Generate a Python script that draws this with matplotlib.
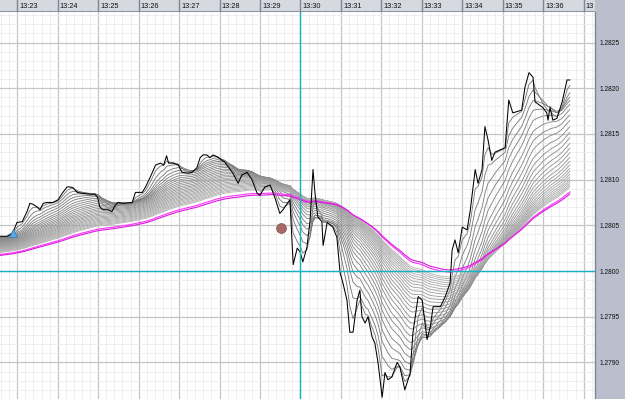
import numpy as np
import matplotlib
matplotlib.use("Agg")
import matplotlib.pyplot as plt
from matplotlib.ticker import MultipleLocator, FormatStrFormatter

# Price readings (time = minutes after 13:00, price)
times = [22.57, 22.75, 22.89, 22.99, 23.12, 23.24, 23.31, 23.39, 23.49, 23.56,
         23.64, 23.73, 23.88, 24.01, 24.11, 24.23, 24.30, 24.38, 24.48, 24.60,
         24.80, 24.92, 24.99, 25.04, 25.12, 25.24, 25.34, 25.42, 25.49, 25.61,
         25.84, 25.92, 26.09, 26.17, 26.29, 26.42, 26.54, 26.62, 26.69, 26.74,
         26.85, 26.98, 27.07, 27.22, 27.32, 27.44, 27.52, 27.59, 27.69, 27.76,
         27.84, 27.94, 28.13, 28.33, 28.46, 28.55, 28.68, 28.80, 28.93, 29.00,
         29.12, 29.25, 29.37, 29.49, 29.57, 29.69, 29.74, 29.82, 29.92, 29.99,
         30.06, 30.16, 30.24, 30.31, 30.36, 30.43, 30.53, 30.56, 30.66, 30.80,
         30.90, 30.98, 31.05, 31.15, 31.22, 31.30, 31.40, 31.47, 31.52, 31.60,
         31.67, 31.77, 31.84, 31.92, 32.02, 32.09, 32.16, 32.26, 32.39, 32.46,
         32.58, 32.71, 32.78, 32.91, 33.01, 33.13, 33.21, 33.28, 33.46, 33.58,
         33.70, 33.75, 33.82, 33.90, 34.00, 34.12, 34.20, 34.32, 34.39, 34.49,
         34.56, 34.64, 34.73, 34.81, 35.06, 35.15, 35.25, 35.47, 35.55, 35.65,
         35.75, 35.80, 35.99, 36.09, 36.12, 36.17, 36.24, 36.34, 36.47, 36.59,
         36.66]
prices = [1.28038, 1.28038, 1.28042, 1.28053, 1.28054, 1.28065, 1.28074, 1.28073, 1.28070, 1.28067,
          1.28074, 1.28075, 1.28075, 1.28078, 1.28085, 1.28092, 1.28092, 1.28091, 1.28086, 1.28085,
          1.28084, 1.28084, 1.28080, 1.28070, 1.28067, 1.28067, 1.28065, 1.28072, 1.28075, 1.28074,
          1.28075, 1.28086, 1.28086, 1.28092, 1.28103, 1.28116, 1.28118, 1.28116, 1.28126, 1.28118,
          1.28118, 1.28116, 1.28108, 1.28107, 1.28108, 1.28113, 1.28124, 1.28127, 1.28127, 1.28124,
          1.28127, 1.28125, 1.28119, 1.28107, 1.28096, 1.28105, 1.28108, 1.28100, 1.28085, 1.28083,
          1.28092, 1.28094, 1.28080, 1.28063, 1.28067, 1.28075, 1.28078, 1.28007, 1.28025, 1.28021,
          1.28010, 1.28026, 1.28056, 1.28111, 1.28085, 1.28059, 1.28054, 1.28028, 1.28053, 1.28048,
          1.28037, 1.27998, 1.27987, 1.27968, 1.27933, 1.27933, 1.27968, 1.27979, 1.27950, 1.27943,
          1.27950, 1.27928, 1.27921, 1.27899, 1.27862, 1.27889, 1.27881, 1.27884, 1.27900, 1.27895,
          1.27870, 1.27888, 1.27932, 1.27972, 1.27968, 1.27925, 1.27939, 1.27961, 1.27961, 1.27972,
          1.27987, 1.28023, 1.28034, 1.28020, 1.28048, 1.28045, 1.28067, 1.28111, 1.28096, 1.28111,
          1.28158, 1.28143, 1.28121, 1.28130, 1.28135, 1.28187, 1.28173, 1.28176, 1.28201, 1.28217,
          1.28212, 1.28185, 1.28179, 1.28173, 1.28165, 1.28179, 1.28165, 1.28167, 1.28185, 1.28209,
          1.28209]

# moving-average ribbon: time constants in minutes
gray_taus = [0.12, 0.24, 0.37, 0.49, 0.61, 0.74, 0.86, 0.98, 1.11, 1.23,
             1.35, 1.48, 1.60, 1.72, 1.85, 1.97, 2.09, 2.22, 2.34, 2.46,
             2.59, 2.71, 2.83, 2.96, 3.08, 3.20]
magenta_taus = [3.6, 3.8]
ribbon_left_bottom = 1.28017   # slowest average at the left edge

minute_labels = ["13:23", "13:24", "13:25", "13:26", "13:27", "13:28", "13:29",
                 "13:30", "13:31", "13:32", "13:33", "13:34", "13:35", "13:36", "13"]
y_ticks = [1.2790, 1.2795, 1.2800, 1.2805, 1.2810, 1.2815, 1.2820, 1.2825]

cross_time, cross_price = 30.0, 1.2800
dot_time, dot_price = 29.52, 1.28047
tri_time, tri_price = 22.89, 1.28042

t = np.array(times)
p = np.array(prices)
assert len(t) == len(p)


def ribbon(tau, start):
    out = np.empty_like(p)
    e = start
    out[0] = e
    for i in range(1, len(p)):
        a = 1 - np.exp(-(t[i] - t[i - 1]) / tau)
        e = e + a * (p[i] - e)
        out[i] = e
    return out


slope0 = (p[0] - ribbon_left_bottom) / max(magenta_taus)

W, H = 625, 399
fig = plt.figure(figsize=(W / 100, H / 100), dpi=100, facecolor="#b9bfcc")
ax = fig.add_axes([0, 0, 595 / W, 387 / H])
ax.set_facecolor("white")
ax.set_xlim(22.572, 37.282)
ax.set_ylim(1.2785996, 1.2828337)

ax.xaxis.set_major_locator(MultipleLocator(1))
ax.xaxis.set_minor_locator(MultipleLocator(0.2))
ax.yaxis.set_major_locator(MultipleLocator(0.0005))
ax.yaxis.set_minor_locator(MultipleLocator(0.0001))
ax.grid(which="minor", color="#ececec", lw=0.6, zorder=0)
ax.grid(which="major", color="#c6c6c6", lw=0.9, zorder=0)
ax.set_axisbelow(True)

ax.yaxis.tick_right()
ax.set_yticks(y_ticks)
ax.yaxis.set_major_formatter(FormatStrFormatter("%.4f"))
ax.tick_params(axis="y", which="both", length=0, pad=3.5, labelsize=4.8, labelcolor="#111111")
for lbl in ax.get_yticklabels():
    lbl.set_family("Liberation Sans")
ax.tick_params(axis="x", which="both", length=0, labelbottom=False)
for s in ["top", "left", "bottom"]:
    ax.spines[s].set_visible(False)
ax.spines["right"].set_color("#7d8494")
ax.spines["right"].set_linewidth(1.0)

n = len(gray_taus)
for i, tau in enumerate(gray_taus):
    shade = 0.45 + 0.25 * i / (n - 1)
    ax.plot(t, ribbon(tau, p[0] - slope0 * tau), color=(shade, shade, shade), lw=0.6, zorder=2)
for tau, c in zip(magenta_taus, ["#ff33ff", "#d81cd8"]):
    ax.plot(t, ribbon(tau, p[0] - slope0 * tau), color=c, lw=0.8, zorder=3)

ax.plot(t, p, color="black", lw=0.75, zorder=4)

ax.axvline(cross_time, color="#14b4c4", lw=1.0, zorder=5)
ax.axhline(cross_price, color="#14b4c4", lw=1.0, zorder=5)

ax.plot([dot_time], [dot_price], "o", ms=7, color="#a76a66", mec="#8a5450", mew=0.6, zorder=6)
ax.plot([tri_time], [tri_price], "^", ms=6, color="#5aaae2", mec="#2f7fbf", mew=0.6, zorder=6)

# time bar on top
tb = fig.add_axes([0, 387 / H, 595 / W, 12 / H])
tb.set_facecolor("#d6d9e0")
tb.set_xlim(ax.get_xlim())
tb.set_ylim(0, 1)
tb.set_xticks([])
tb.set_yticks([])
for s in tb.spines.values():
    s.set_visible(False)
tb.axhline(0, color="#7d8494", lw=1.2)
for k, lab in enumerate(minute_labels):
    m = 23 + k
    tb.axvline(m, color="#7d8494", lw=1.0)
    tb.text(m + 0.05, 0.48, lab, fontsize=5.3, va="center", ha="left",
            color="#111111", family="Liberation Sans")

fig.savefig("out.png", dpi=100, facecolor=fig.get_facecolor())
